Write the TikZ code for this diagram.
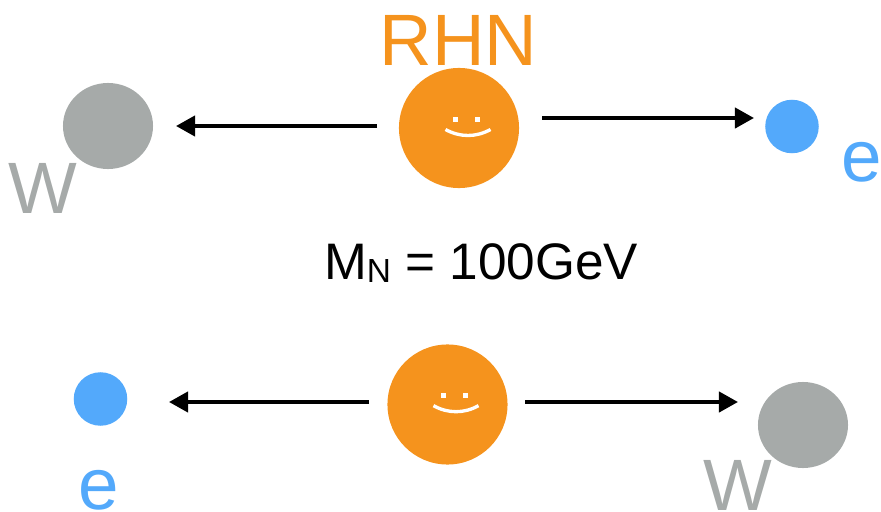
\documentclass[tikz,border=0pt]{standalone}
\usepackage{xcolor}
\usepackage{fontspec}
\setmainfont{Liberation Sans}
\usetikzlibrary{arrows.meta, shapes.geometric}

\definecolor{rhnorange}{HTML}{F5931D}
\definecolor{wgray}{HTML}{A6AAA9}
\definecolor{eblue}{HTML}{53A9FB}

\begin{document}
\begin{tikzpicture}[
		x=0.01cm,
		y=-0.01cm,
		every node/.style={inner sep=0pt, outer sep=0pt},
		rhn/.style={circle, fill=rhnorange, minimum size=1.2cm},
		wball/.style={ellipse, fill=wgray, minimum width=0.9cm, minimum height=0.86cm},
		eball/.style={circle, fill=eblue, minimum size=0.535cm},
		big label/.style={font=\fontsize{20.7}{21}\selectfont, anchor=base},
		mass label/.style={font=\fontsize{14.6}{15}\selectfont, anchor=base},
		flight/.style={line width=1.15pt, -{Triangle[length=0.19cm, width=0.2cm]}},
		eye/.style={fill=white, minimum size=0.05cm},
		mouth/.style={white, line width=0.95pt}
		]
	\useasboundingbox (0, 0) rectangle (881, 512);
	
	% Top decay
	\node[big label, text=rhnorange] (rhnlabel) at (458.5, 65) {RHN};
	\node[rhn] (rhntop) at (459, 128) {};
	\node[big label, text=wgray] (wlabeltop) at (43, 213) {W};
	\node[wball] (wtop) at (108, 126) {};
	\node[eball] (etop) at (792, 126.5) {};
	\node[big label, text=eblue] (elabeltop) at (861.5, 181) {e};
	
	% Mass
	\node[mass label] (mass) at (481, 279.5) {M\raisebox{-0.85pt}{\fontsize{9.5}{10}\selectfont N} = 100GeV};
	
	% Bottom decay
	\node[rhn] (rhnbottom) at (447.5, 404.5) {};
	\node[eball] (ebottom) at (100.5, 399) {};
	\node[big label, text=eblue] (elabelbottom) at (99, 509) {e};
	\node[big label, text=wgray] (wlabelbottom) at (738, 510) {W};
	\node[wball] (wbottom) at (803, 425) {};
	
	% Arrow ends
	\coordinate (tl start) at (377, 126);
	\coordinate (tl end) at (176, 126);
	\coordinate (tr start) at (542, 118);
	\coordinate (tr end) at (754, 118);
	\coordinate (bl start) at (369, 402);
	\coordinate (bl end) at (169, 402);
	\coordinate (br start) at (525, 402);
	\coordinate (br end) at (738, 402);
	
	\draw[flight] (tl start) -- (tl end);
	\draw[flight] (tr start) -- (tr end);
	\draw[flight] (bl start) -- (bl end);
	\draw[flight] (br start) -- (br end);
	
	% Faces
	\foreach \face/\x/\y in {top/468/119.5, bottom/456/395.7}{
		\node[eye] (eyel\face) at (\x-12.5, \y) {};
		\node[eye] (eyer\face) at (\x+9.5, \y) {};
		\draw[mouth] (\x-22.5, \y+10) .. controls (\x-8, \y+18) and (\x+8, \y+18) .. (\x+22.5, \y+10);
	}
	
\end{tikzpicture}
\end{document}
